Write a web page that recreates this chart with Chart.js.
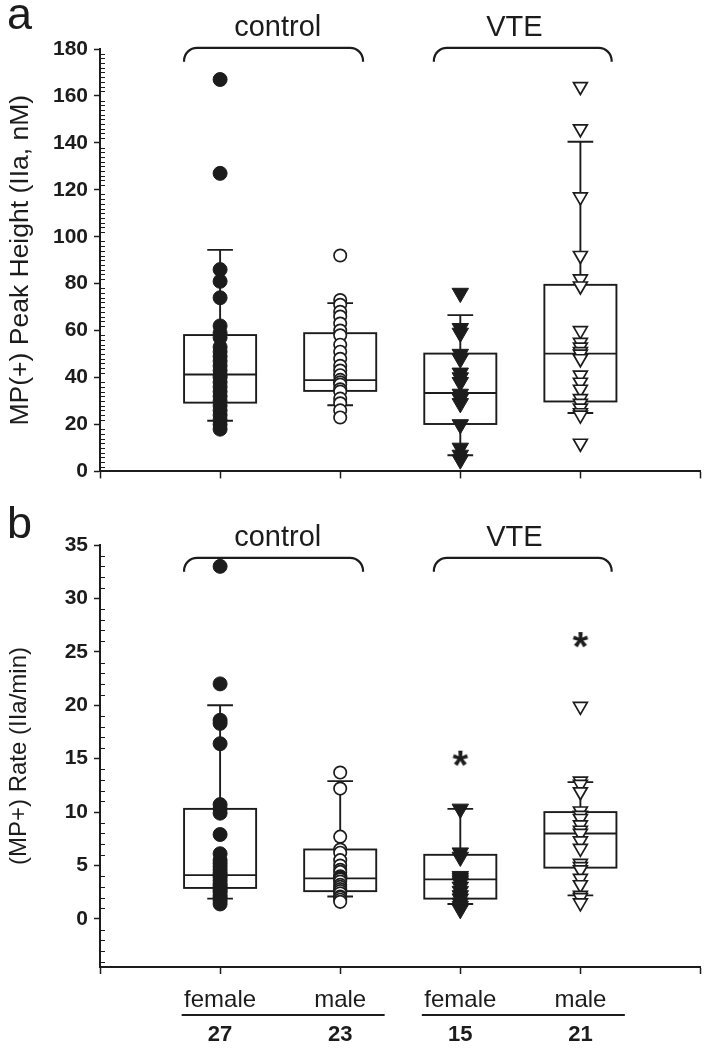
<!DOCTYPE html>
<html>
<head>
<meta charset="utf-8">
<script src="https://cdn.jsdelivr.net/npm/chart.js@4"></script>
<style>
  body { margin: 0; background: #fff; width: 711px; height: 1050px; overflow: hidden; position: relative; }
  canvas { position: absolute; left: 0; }
  #peakChart { top: 0; }
  #rateChart { top: 490px; }
</style>
</head>
<body>
<canvas id="peakChart" width="711" height="490"></canvas>
<canvas id="rateChart" width="711" height="560"></canvas>
<script>
// categories along the bottom
const sexes = ['female', 'male', 'female', 'male'];
const counts = ['27', '23', '15', '21'];
const groups = ['control', 'VTE'];

// panel a: MP(+) peak height
const peakTicks = [0, 20, 40, 60, 80, 100, 120, 140, 160, 180];
const peakQ1 = [29.3, 34.3, 20.2, 29.8];
const peakMedian = [41.3, 38.9, 33.4, 50.2];
const peakQ3 = [58.1, 58.9, 50.2, 79.5];
const peakLow = [21.6, 28.2, 6.9, 24.9];
const peakHigh = [94.4, 71.7, 66.6, 140.5];
const peakControlFemale = [167, 127, 86, 81, 74, 62, 59, 57, 53, 51, 49, 47, 45, 43, 41, 40, 38, 36, 34, 32, 30, 28, 26, 24, 22, 20, 18];
const peakControlMale = [92, 73, 71, 68, 66, 63, 60, 58, 54, 51, 48, 45, 43, 41, 39, 38, 37, 35, 34, 31, 29, 26, 23];
const peakVteFemale = [76, 61, 59, 50, 48, 42, 40, 38, 33, 31, 29, 20, 10, 7, 5];
const peakVteMale = [164, 146, 117, 92, 82, 79, 60, 55, 53, 51, 50, 48, 41, 38, 35, 31, 29, 27, 25, 24, 12];
const peakExtremes = [[], [], [], []];

// panel b: (MP+) rate
const rateTicks = [0, 5, 10, 15, 20, 25, 30, 35];
const rateQ1 = [2.9, 2.6, 1.9, 4.8];
const rateMedian = [4.1, 3.8, 3.7, 8.0];
const rateQ3 = [10.3, 6.5, 6.0, 10.0];
const rateLow = [1.9, 2.1, 1.4, 2.2];
const rateHigh = [20.0, 12.9, 10.3, 12.8];
const rateControlFemale = [33, 22, 18.6, 18.3, 16.4, 10.7, 10.3, 9.9, 7.9, 6.1, 5.5, 5.2, 4.9, 4.6, 4.3, 4.1, 3.9, 3.6, 3.3, 3.1, 2.9, 2.7, 2.5, 2.2, 2.0, 1.7, 1.4];
const rateControlMale = [13.7, 12.2, 7.7, 6.5, 6.2, 5.5, 5.0, 4.6, 4.4, 4.0, 3.9, 3.8, 3.7, 3.5, 3.2, 3.0, 2.8, 2.6, 2.4, 2.1, 2.0, 1.8, 1.6];
const rateVteFemale = [10.3, 6.2, 5.8, 4.0, 3.8, 3.6, 3.4, 3.0, 2.6, 2.2, 1.9, 1.5, 1.2, 0.9];
const rateVteMale = [19.9, 12.9, 12.6, 11.9, 10.1, 9.7, 9.4, 8.8, 8.3, 8.0, 7.3, 6.6, 5.2, 4.9, 4.6, 3.8, 3.2, 2.2, 2.0, 1.5];
const rateExtremes = [[], [], [15.0], [26.1]];

const ink = '#1c1c1c';
const family = "'Liberation Sans', Arial, Helvetica, sans-serif";

// one marker per category: filled circle, open circle, filled / open down-triangle
const markers = [
  { style: 'circle', r: 7, fill: ink, bw: 1 },
  { style: 'circle', r: 6.2, fill: '#fff', bw: 1.7 },
  { style: 'triangle', r: 9.5, fill: ink, bw: 1, rot: 180 },
  { style: 'triangle', r: 8, fill: '#fff', bw: 1.7, rot: 180 }
];

function asteriskImage() {
  const c = document.createElement('canvas');
  c.width = 26; c.height = 26;
  const g = c.getContext('2d');
  g.fillStyle = ink;
  g.font = 'bold 40px ' + family;
  g.textAlign = 'center';
  const m = g.measureText('*');
  g.fillText('*', 13, 13 + (m.actualBoundingBoxAscent - m.actualBoundingBoxDescent) / 2);
  return c;
}
const asterisk = asteriskImage();

function buildDatasets(series, extremes) {
  const sets = series.map((vals, i) => ({
    data: vals.map(v => ({ x: i + 1, y: v })),
    pointStyle: markers[i].style,
    pointRadius: markers[i].r,
    pointRotation: markers[i].rot || 0,
    pointBackgroundColor: markers[i].fill,
    pointBorderColor: ink,
    pointBorderWidth: markers[i].bw,
    clip: false
  }));
  sets.push({
    data: extremes.flatMap((vals, i) => vals.map(v => ({ x: i + 1, y: v }))),
    pointStyle: asterisk,
    pointRadius: 7,
    clip: false
  });
  return sets;
}

// box, median line and whiskers under the points
const boxPlugin = {
  id: 'boxes',
  beforeDatasetsDraw(chart, args, o) {
    const { ctx, scales: { x, y } } = chart;
    ctx.save();
    ctx.strokeStyle = ink;
    ctx.lineWidth = 1.9;
    o.q1.forEach((_, i) => {
      const cx = x.getPixelForValue(i + 1);
      const hw = x.getPixelForValue(i + 1 + o.boxHalf) - cx;
      const cw = x.getPixelForValue(i + 1 + o.capHalf) - cx;
      const p1 = y.getPixelForValue(o.q1[i]);
      const pm = y.getPixelForValue(o.median[i]);
      const p3 = y.getPixelForValue(o.q3[i]);
      const pl = y.getPixelForValue(o.low[i]);
      const ph = y.getPixelForValue(o.high[i]);
      ctx.strokeRect(cx - hw, p3, hw * 2, p1 - p3);
      ctx.beginPath();
      ctx.moveTo(cx - hw, pm); ctx.lineTo(cx + hw, pm);
      ctx.moveTo(cx, p3); ctx.lineTo(cx, ph);
      ctx.moveTo(cx - cw, ph); ctx.lineTo(cx + cw, ph);
      ctx.moveTo(cx, p1); ctx.lineTo(cx, pl);
      ctx.moveTo(cx - cw, pl); ctx.lineTo(cx + cw, pl);
      ctx.stroke();
    });
    ctx.restore();
  }
};

// group brackets with "control" / "VTE"
const bracketPlugin = {
  id: 'brackets',
  afterDraw(chart, args, o) {
    const { ctx, scales: { x, y } } = chart;
    const top = y.getPixelForValue(o.top);
    const r = 13;
    ctx.save();
    ctx.strokeStyle = ink;
    ctx.lineWidth = 2.2;
    ctx.fillStyle = ink;
    ctx.font = '29px ' + family;
    ctx.textAlign = 'center';
    o.spans.forEach((s, i) => {
      const x0 = x.getPixelForValue(s[0]);
      const x1 = x.getPixelForValue(s[1]);
      ctx.beginPath();
      ctx.moveTo(x0, top + o.drop);
      ctx.arcTo(x0, top, x0 + r, top, r);
      ctx.arcTo(x1, top, x1, top + o.drop, r);
      ctx.lineTo(x1, top + o.drop);
      ctx.stroke();
      ctx.fillText(o.labels[i], x.getPixelForValue(o.labelAt[i]), top - 12);
    });
    ctx.restore();
  }
};

// small inner ticks on the y axis
const minorTickPlugin = {
  id: 'minorTicks',
  afterDraw(chart, args, o) {
    const { ctx, chartArea, scales: { y } } = chart;
    ctx.save();
    ctx.strokeStyle = ink;
    ctx.lineWidth = 1.2;
    ctx.beginPath();
    for (let k = Math.ceil(y.min / o.step); k * o.step <= y.max; k++) {
      const v = k * o.step;
      if (Math.abs(v / o.major - Math.round(v / o.major)) < 1e-6) continue;
      const py = Math.round(y.getPixelForValue(v)) + 0.5;
      ctx.moveTo(chartArea.left, py);
      ctx.lineTo(chartArea.left + o.length, py);
    }
    ctx.stroke();
    ctx.restore();
  }
};

// panel letter and the labels under the x axis
const captionPlugin = {
  id: 'captions',
  afterDraw(chart, args, o) {
    const { ctx, chartArea, scales: { x } } = chart;
    ctx.save();
    ctx.fillStyle = ink;
    ctx.font = '45px ' + family;
    ctx.textAlign = 'left';
    ctx.fillText(o.letter, 7, o.letterY);
    if (o.bottom) {
      const base = chartArea.bottom;
      ctx.textAlign = 'center';
      ctx.font = '24px ' + family;
      sexes.forEach((s, i) => ctx.fillText(s, x.getPixelForValue(i + 1), base + 40));
      ctx.font = 'bold 22px ' + family;
      counts.forEach((c, i) => ctx.fillText(c, x.getPixelForValue(i + 1), base + 74));
      ctx.strokeStyle = ink;
      ctx.lineWidth = 2;
      ctx.beginPath();
      o.underlines.forEach(u => {
        ctx.moveTo(x.getPixelForValue(u[0]), base + 48);
        ctx.lineTo(x.getPixelForValue(u[1]), base + 48);
      });
      ctx.stroke();
    }
    ctx.restore();
  }
};

function makePanel(id, p) {
  const xTicks = [0, ...sexes.map((_, i) => i + 1), sexes.length + 1];
  new Chart(document.getElementById(id), {
    type: 'scatter',
    data: { datasets: buildDatasets(p.series, p.extremes) },
    plugins: [boxPlugin, bracketPlugin, minorTickPlugin, captionPlugin],
    options: {
      responsive: false,
      animation: false,
      devicePixelRatio: 1,
      events: [],
      layout: { padding: { left: 0, right: 6, top: p.padTop, bottom: 0 } },
      scales: {
        x: {
          type: 'linear',
          min: 0,
          max: sexes.length + 1,
          afterBuildTicks: s => { s.ticks = xTicks.map(v => ({ value: v })); },
          afterFit: s => { s.height = p.xHeight; },
          ticks: { display: false },
          grid: { drawOnChartArea: false, drawTicks: true, tickLength: 7, tickColor: ink, tickWidth: 1.5 },
          border: { display: true, color: ink, width: 2 }
        },
        y: {
          min: p.min,
          max: p.max,
          afterBuildTicks: s => { s.ticks = p.ticks.map(v => ({ value: v })); },
          afterFit: s => { s.width = 100; },
          ticks: { font: { family: family, size: 21, weight: 'bold' }, color: ink, padding: 6 },
          grid: { drawOnChartArea: false, drawTicks: true, tickLength: 6, tickColor: ink, tickWidth: 1.5 },
          border: { display: true, color: ink, width: 2 },
          title: {
            display: true,
            text: p.title,
            font: { family: family, size: p.titleSize },
            color: ink,
            padding: { top: 5, bottom: 0 }
          }
        }
      },
      plugins: {
        legend: { display: false },
        tooltip: { enabled: false },
        boxes: { q1: p.q1, median: p.median, q3: p.q3, low: p.low, high: p.high, boxHalf: 0.3, capHalf: 0.107 },
        brackets: { spans: [[0.7, 2.19], [2.78, 4.26]], labels: groups, labelAt: [1.48, 3.45], top: p.bracketTop, drop: 14 },
        minorTicks: { step: p.minorStep, major: p.ticks[1] - p.ticks[0], length: 5 },
        captions: { letter: p.letter, letterY: p.letterY, bottom: p.bottom, underlines: [[0.68, 2.37], [2.68, 4.37]] }
      }
    }
  });
}

makePanel('peakChart', {
  series: [peakControlFemale, peakControlMale, peakVteFemale, peakVteMale],
  extremes: peakExtremes,
  q1: peakQ1, median: peakMedian, q3: peakQ3, low: peakLow, high: peakHigh,
  ticks: peakTicks, min: 0, max: 180, minorStep: 2,
  title: 'MP(+) Peak Height (IIa, nM)', titleSize: 26.5,
  padTop: 49, xHeight: 17, bracketTop: 180.5,
  letter: 'a', letterY: 29, bottom: false
});

makePanel('rateChart', {
  series: [rateControlFemale, rateControlMale, rateVteFemale, rateVteMale],
  extremes: rateExtremes,
  q1: rateQ1, median: rateMedian, q3: rateQ3, low: rateLow, high: rateHigh,
  ticks: rateTicks, min: -4.5, max: 35, minorStep: 1,
  title: '(MP+) Rate (IIa/min)', titleSize: 24,
  padTop: 55, xHeight: 83, bracketTop: 33.8,
  letter: 'b', letterY: 48, bottom: true
});
</script>
</body>
</html>
